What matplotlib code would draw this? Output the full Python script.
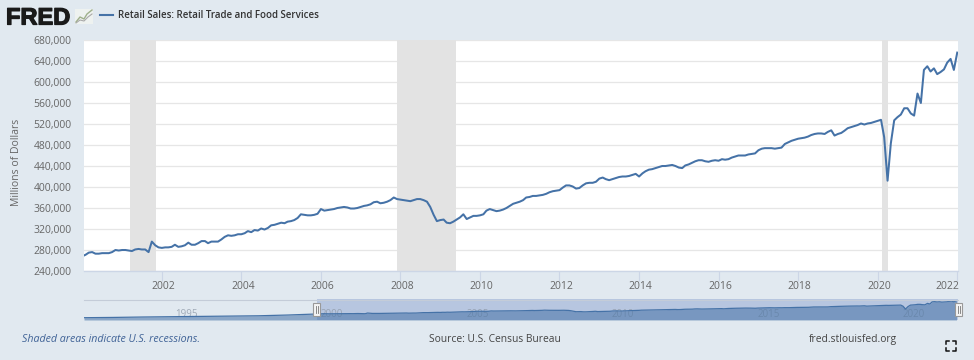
import numpy as np
import pandas as pd
import matplotlib
matplotlib.use("Agg")
import matplotlib.pyplot as plt
import matplotlib.patheffects as pe
from matplotlib.patches import Rectangle
from matplotlib.lines import Line2D
from matplotlib.transforms import ScaledTranslation

W, H = 974, 360
BG = "#e1e9f0"
LINE = "#4572a7"
TXT = "#666666"

# Monthly retail sales, thousands of millions of dollars
y2000 = [268, 271, 275, 276, 273, 273, 274, 274, 274, 276, 280, 279]
y2001 = [280, 280, 279, 278, 281, 282, 281, 281, 276, 296, 289, 285]
y2002 = [284, 285, 285, 286, 290, 286, 287, 289, 294, 290, 290, 293]
y2003 = [297, 297, 293, 296, 296, 296, 300, 305, 308, 307, 308, 310]
y2004 = [310, 312, 316, 314, 318, 317, 321, 319, 322, 327, 328, 330]
y2005 = [332, 331, 334, 335, 337, 341, 348, 347, 346, 346, 347, 349]
y2006 = [358, 355, 356, 357, 358, 360, 361, 362, 361, 359, 359, 360]
y2007 = [362, 364, 365, 367, 371, 372, 369, 370, 372, 375, 380, 377]
y2008 = [376, 375, 374, 373, 375, 377, 377, 375, 372, 362, 347, 335]
y2009 = [337, 338, 332, 331, 334, 338, 342, 348, 339, 342, 345, 345]
y2010 = [346, 348, 355, 358, 356, 354, 355, 357, 360, 364, 368, 370]
y2011 = [372, 375, 380, 381, 383, 383, 384, 385, 387, 390, 392, 393]
y2012 = [394, 399, 403, 403, 401, 397, 398, 403, 407, 408, 408, 410]
y2013 = [416, 418, 415, 413, 415, 417, 419, 420, 420, 421, 423, 425]
y2014 = [420, 426, 430, 433, 434, 436, 438, 440, 440, 441, 442, 440]
y2015 = [437, 436, 441, 443, 446, 449, 451, 451, 449, 448, 450, 451]
y2016 = [450, 453, 452, 453, 456, 458, 460, 460, 460, 462, 463, 464]
y2017 = [470, 473, 474, 474, 474, 473, 474, 475, 482, 485, 488, 490]
y2018 = [492, 493, 494, 496, 499, 501, 502, 502, 501, 505, 508, 498]
y2019 = [501, 503, 507, 512, 514, 516, 518, 521, 519, 521, 522, 524]
y2020 = [526, 528, 495, 412, 483, 527, 533, 538, 550, 550, 540, 536]
y2021 = [578, 560, 623, 630, 620, 626, 615, 619, 624, 637, 644, 623]
y2022 = [656]

# Earlier history shown only in the navigator strip (January of each year)
early_years = ["1992", "1993", "1994", "1995", "1996", "1997", "1998", "1999"]
early_values = [160, 168, 180, 188, 198, 208, 216, 238]

y_ticks = [240, 280, 320, 360, 400, 440, 480, 520, 560, 600, 640, 680]
x_tick_years = [2002, 2004, 2006, 2008, 2010, 2012, 2014, 2016, 2018, 2020, 2022]
nav_tick_years = [1995, 2000, 2005, 2010, 2015, 2020]
recessions = [("2001-03-12", "2001-11-07"), ("2007-12-01", "2009-05-25"), ("2020-02-13", "2020-04-08")]

series = (y2000 + y2001 + y2002 + y2003 + y2004 + y2005 + y2006 + y2007 + y2008 + y2009 + y2010
          + y2011 + y2012 + y2013 + y2014 + y2015 + y2016 + y2017 + y2018 + y2019 + y2020 + y2021 + y2022)
dates = pd.date_range("2000-01-01", periods=len(series), freq="MS")
values = np.array(series) * 1000

plt.rcParams["font.family"] = ["Open Sans", "DejaVu Sans"]
fig = plt.figure(figsize=(W / 100, H / 100), dpi=100, facecolor=BG)


def box(x0, y0, x1, y1):
    return [x0 / W, 1 - y1 / H, (x1 - x0) / W, (y1 - y0) / H]


def fx(x):
    return x / W


def fy(y):
    return 1 - y / H


# Main plot
ax = fig.add_axes(box(84, 40, 958, 271), facecolor="white")
ax.set_xlim(pd.Timestamp("2000-01-17"), pd.Timestamp("2022-01-08"))
ax.set_ylim(240000, 680000)
for s in ["top", "left", "right"]:
    ax.spines[s].set_visible(False)
ax.spines["bottom"].set_color("#ccd6e6")
ax.spines["bottom"].set_linewidth(1)
ax.set_yticks([v * 1000 for v in y_ticks])
ax.set_yticklabels([f"{v},000" for v in y_ticks], color=TXT, fontsize=7.5)
ax.set_xticks([pd.Timestamp(f"{y}-01-01") for y in x_tick_years])
ax.set_xticklabels([str(y) for y in x_tick_years], color=TXT, fontsize=7.5)
ax.tick_params(axis="y", length=0, pad=9)
ax.tick_params(axis="x", length=7, width=0.8, color="#ccd6e6", pad=0)
labels = ax.get_xticklabels()
for lab in labels[:-1]:
    lab.set_transform(lab.get_transform() + ScaledTranslation(1.5 / 100, 0, fig.dpi_scale_trans))
labels[-1].set_transform(labels[-1].get_transform() + ScaledTranslation(-10 / 100, 0, fig.dpi_scale_trans))
ax.grid(axis="y", color="#e6e6e6", linewidth=0.9, zorder=1)
ax.set_axisbelow(True)
for a, b in recessions:
    ax.axvspan(pd.Timestamp(a), pd.Timestamp(b), color="#e3e3e3", lw=0, zorder=1.5)
ax.plot(dates, values, color=LINE, lw=1.45, zorder=3, solid_joinstyle="round")
fig.text(fx(17), fy(162), "Millions of Dollars", rotation=90, ha="center", va="center", color=TXT, fontsize=7.5)

# Navigator strip
nav = fig.add_axes(box(84, 299, 958, 320))
nav.patch.set_alpha(0)
nav_dates = pd.DatetimeIndex([pd.Timestamp(f"{y}-01-01") for y in early_years]).append(dates)
nav_values = np.concatenate([np.array(early_values) * 1000, values])
nav.set_xlim(pd.Timestamp("1992-01-01"), pd.Timestamp("2022-01-20"))
nav.set_ylim(93000, 706000)
nav.axis("off")
sel0, sel1 = pd.Timestamp("2000-01-01"), pd.Timestamp("2022-01-20")
nav.axvspan(sel0, sel1, color="#b7c6e0", lw=0, zorder=1)
nav.fill_between(nav_dates, nav_values, 93000, color=LINE, alpha=0.55, lw=0, zorder=2)
nav.plot(nav_dates, nav_values, color=LINE, lw=0.9, zorder=3)
for y in nav_tick_years:
    nav.annotate(str(y), (pd.Timestamp(f"{y}-01-01"), 0), xycoords=("data", "axes fraction"),
                 xytext=(3, 0), textcoords="offset points", color="#8f9aa8", fontsize=7,
                 ha="left", va="bottom", zorder=1.5, alpha=0.8)
fig.add_artist(Line2D([fx(84), fx(958)], [fy(299.5)] * 2, color="#c4ccd8", lw=0.8))

for hx in (316.5, 958.5):
    fig.add_artist(Rectangle((fx(hx - 3.5), fy(316)), 7 / W, 13 / H, transform=fig.transFigure,
                             facecolor="#f4f4f4", edgecolor="#999999", lw=0.8, zorder=6))
    for dx in (-1, 1):
        fig.add_artist(Line2D([fx(hx + dx)] * 2, [fy(306), fy(313)], color="#777777", lw=0.6, zorder=7))

# Header
fig.text(fx(6), fy(24.5), "FRED", family="Liberation Sans", weight="bold", fontsize=17, color="#1a1a1a",
         ha="left", va="baseline", path_effects=[pe.withStroke(linewidth=0.9, foreground="#1a1a1a")])
fig.add_artist(Rectangle((fx(75), fy(24)), 18 / W, 15 / H, transform=fig.transFigure, facecolor="#eef2f0", lw=0))
fig.add_artist(Line2D([fx(v) for v in (76, 80, 84, 87, 92)], [fy(v) for v in (22, 17, 19, 14, 10)], color="#9fb08c", lw=1))
fig.add_artist(Line2D([fx(v) for v in (76, 80, 84, 88, 92)], [fy(v) for v in (23, 20, 21, 17, 14)], color="#a9a9a9", lw=0.8))
fig.add_artist(Line2D([fx(100), fx(113)], [fy(15)] * 2, color=LINE, lw=1.5))
fig.text(fx(118), fy(15.5), "Retail Sales: Retail Trade and Food Services", color="#333333",
         fontsize=7, weight="semibold", ha="left", va="center")

# Footer
fig.text(fx(22), fy(339.5), "Shaded areas indicate U.S. recessions.", style="italic", color="#3f6296",
         fontsize=7.7, ha="left", va="center")
fig.text(fx(494.5), fy(339.5), "Source: U.S. Census Bureau", color="#444444", fontsize=7.4, ha="center", va="center")
fig.text(fx(853), fy(339.5), "fred.stlouisfed.org", color="#444444", fontsize=7.4, ha="center", va="center")

# Full-screen icon
for cx, cy, sx, sy in [(945.5, 341, 1, 1), (955.5, 341, -1, 1), (945.5, 350.5, 1, -1), (955.5, 350.5, -1, -1)]:
    fig.add_artist(Line2D([fx(cx + 3 * sx), fx(cx), fx(cx)], [fy(cy), fy(cy), fy(cy + 3 * sy)], color="#111111", lw=1.1))

fig.savefig("out.png", dpi=100, facecolor=BG)
